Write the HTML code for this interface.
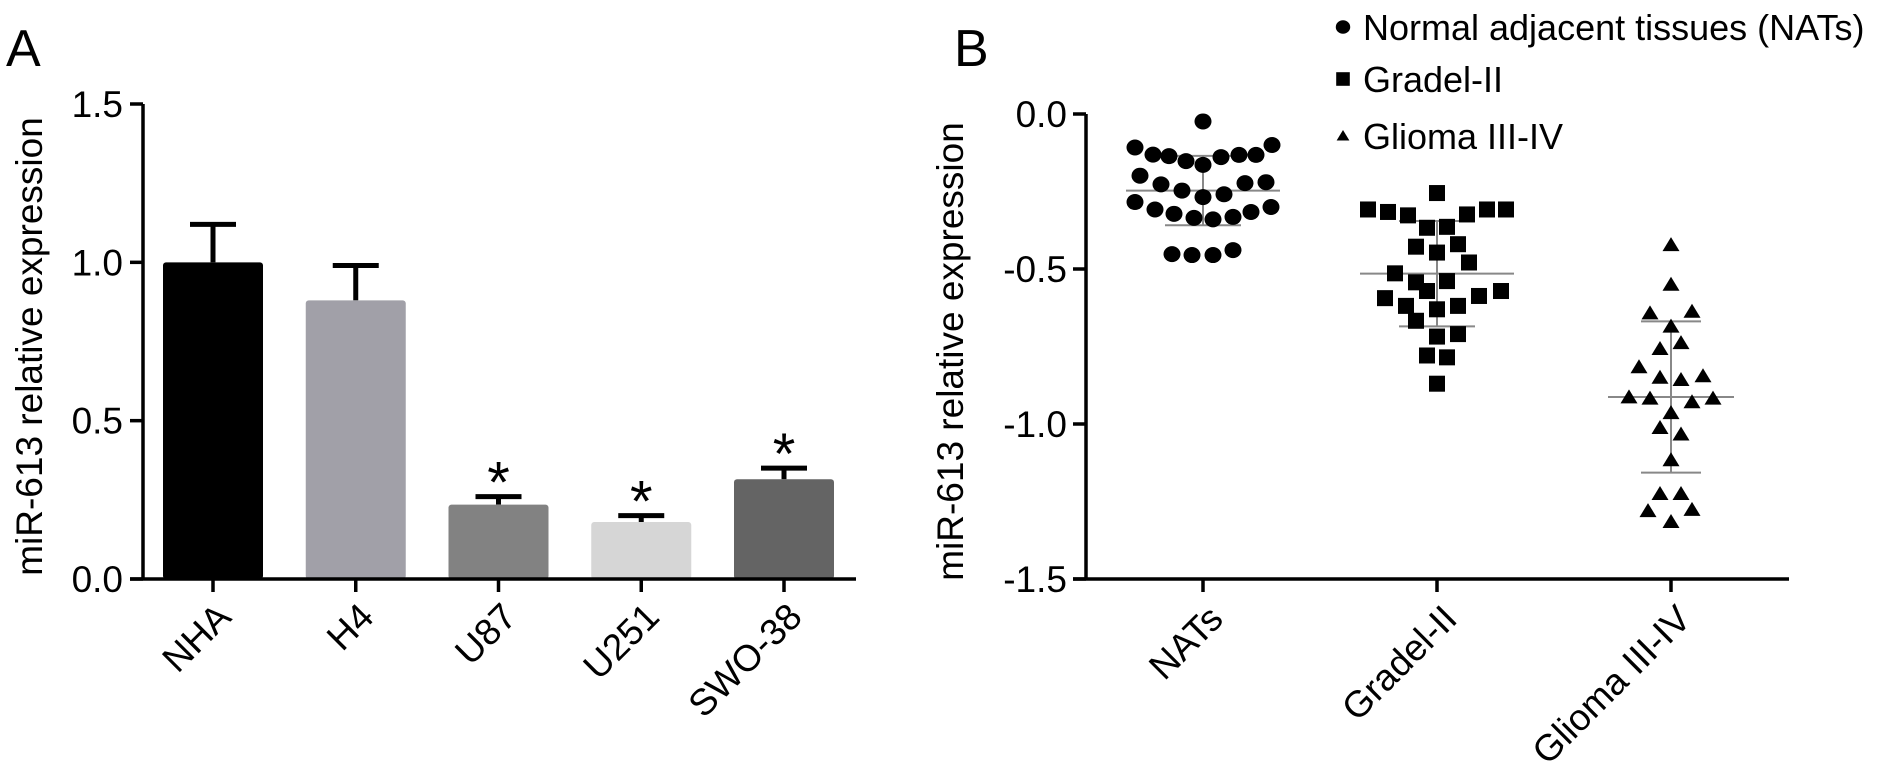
<!DOCTYPE html>
<html><head><meta charset="utf-8"><style>
html,body{margin:0;padding:0;background:#fff;}
svg{display:block;font-family:"Liberation Sans",Arial,sans-serif;}
</style></head><body>
<svg id="fig" width="1895" height="775" viewBox="0 0 1895 775" xmlns="http://www.w3.org/2000/svg">
<text x="6" y="66" font-size="52">A</text>
<text x="954" y="66" font-size="52">B</text>
<g id="pa"></g>
<g id="pb"></g>
</svg>
<script>
// Panel A data
const barCats = ["NHA","H4","U87","U251","SWO-38"];
const barVals = [1.0,0.88,0.235,0.18,0.315];
const barErr = [0.12,0.11,0.025,0.02,0.035];
const barSig = [false,false,true,true,true];
const aTicks = [0,0.5,1.0,1.5];
const aTickLabels = ["0.0","0.5","1.0","1.5"];
// Panel B data
const bCats = ["NATs","Gradel-II","Glioma III-IV"];
const natsVals = [-0.024,-0.108,-0.131,-0.136,-0.152,-0.164,-0.139,-0.132,-0.132,-0.100,-0.199,-0.227,-0.247,-0.268,-0.259,-0.223,-0.220,-0.284,-0.308,-0.322,-0.335,-0.340,-0.332,-0.316,-0.300,-0.452,-0.455,-0.455,-0.439];
const gradeVals = [-0.255,-0.308,-0.316,-0.327,-0.324,-0.308,-0.308,-0.367,-0.364,-0.428,-0.420,-0.447,-0.479,-0.514,-0.543,-0.539,-0.571,-0.594,-0.587,-0.571,-0.619,-0.619,-0.630,-0.667,-0.710,-0.718,-0.779,-0.785,-0.870];
const gliomaVals = [-0.423,-0.551,-0.643,-0.638,-0.686,-0.739,-0.758,-0.817,-0.846,-0.851,-0.858,-0.914,-0.918,-0.930,-0.918,-0.965,-1.013,-1.034,-1.117,-1.226,-1.226,-1.281,-1.316,-1.277];
const bMeans = [-0.247,-0.515,-0.913];
const bSD = [0.112,0.170,0.244];
const bTicks = [0,-0.5,-1.0,-1.5];
const bTickLabels = ["0.0","-0.5","-1.0","-1.5"];
// horizontal jitter (layout, px)
const natsJit = [0,-68,-50,-34,-17,0,18,36,53,69,-63,-42,-21,0,21,42,63,-68,-48,-29,-9,10,30,48,68,-31,-11,10,30];
const gradeJit = [0,-69,-49,-29,30,50,69,-10,10,-21,21,0,32,-42,-21,10,-10,-52,42,64,-31,21,0,-21,21,0,-10,10,0];
const gliomaJit = [0,0,-21,21,0,10,-11,-32,32,-11,10,-42,-21,21,42,0,-11,10,0,-11,10,-23,0,21];

const NS="http://www.w3.org/2000/svg";
function mk(parent,tag,attrs){const e=document.createElementNS(NS,tag);for(const k in attrs)e.setAttribute(k,attrs[k]);parent.appendChild(e);return e;}

// ---------- Panel A ----------
const pa=document.getElementById('pa');
const aX0=143,aX1=856,aY0=579,aY15=104;
const ay=v=>aY0-(v/1.5)*(aY0-aY15);
const ax=i=>213+i*142.75;
const barColors=["#000000","#a1a0a8","#828282","#d6d6d6","#646464"];
barCats.forEach((c,i)=>{
  const cx=ax(i),w=100;
  const top=ay(barVals[i]+barErr[i]);
  const el=mk(pa,'line',{x1:cx,x2:cx,y1:ay(barVals[i]),y2:top,stroke:'#000','stroke-width':5});
  
  
  const cap=mk(pa,'line',{x1:cx-23,x2:cx+23,y1:top,y2:top,stroke:'#000','stroke-width':5});
  
  
  const r=mk(pa,'rect',{x:cx-w/2,y:ay(barVals[i]),width:w,height:aY0-ay(barVals[i]),fill:barColors[i],rx:3});
  
  
  if(barSig[i]){
    const s=mk(pa,'text',{x:cx,y:top+6,'font-size':58,'text-anchor':'middle'});
    s.textContent='*';
    
    
  }
  const tk=mk(pa,'line',{x1:cx,x2:cx,y1:aY0,y2:aY0+13,stroke:'#000','stroke-width':3.5});
  
  
  const t=mk(pa,'text',{x:0,y:0,'font-size':37,'text-anchor':'end',transform:`translate(${cx+20},${aY0+40}) rotate(-45)`});
  t.textContent=c;
  
  
});
{
const yl=mk(pa,'line',{x1:aX0,x2:aX0,y1:aY15,y2:aY0+1.5,stroke:'#000','stroke-width':3.5});


const xl=mk(pa,'line',{x1:aX0-13,x2:aX1,y1:aY0,y2:aY0,stroke:'#000','stroke-width':3.5});


aTicks.forEach((v,i)=>{
  const tk=mk(pa,'line',{x1:aX0-13,x2:aX0,y1:ay(v),y2:ay(v),stroke:'#000','stroke-width':3.5});
  
  
  const t=mk(pa,'text',{x:aX0-20,y:ay(v)+13,'font-size':37,'text-anchor':'end'});
  t.textContent=aTickLabels[i];
  
  
});
const tt=mk(pa,'text',{x:0,y:0,'font-size':37,'text-anchor':'middle',transform:`translate(42,${(aY0+aY15)/2+5}) rotate(-90)`});
tt.textContent='miR-613 relative expression';


}

// ---------- Panel B ----------
const pb=document.getElementById('pb');
const bX0=1086,bX1=1789,bY0=114,bY15=579;
const by=v=>bY0+(-v/1.5)*(bY15-bY0);
const bx=i=>1203+i*234;
const groups=[natsVals,gradeVals,gliomaVals];
const jits=[natsJit,gradeJit,gliomaJit];
const shapes=['circle','square','triangle'];
const meanHalf=[77,77,63], sdHalf=[38,38,30];
function marker(parent,shape,x,y){
  if(shape==='circle') return mk(parent,'ellipse',{cx:x,cy:y,rx:8.5,ry:8,fill:'#000'});
  if(shape==='square') return mk(parent,'rect',{x:x-8,y:y-8,width:16,height:16,fill:'#000'});
  return mk(parent,'polygon',{points:`${x},${y-8} ${x+8.5},${y+6} ${x-8.5},${y+6}`,fill:'#000'});
}
bCats.forEach((c,i)=>{
  const cx=bx(i);
  const m=bMeans[i],sd=bSD[i];
  const g='#888';
  const v=mk(pb,'line',{x1:cx,x2:cx,y1:by(m+sd),y2:by(m-sd),stroke:g,'stroke-width':2});
  
  
  const ml=mk(pb,'line',{x1:cx-meanHalf[i],x2:cx+meanHalf[i],y1:by(m),y2:by(m),stroke:g,'stroke-width':2});
  
  
  [m+sd,m-sd].forEach(vv=>{
    const s=mk(pb,'line',{x1:cx-sdHalf[i],x2:cx+sdHalf[i],y1:by(vv),y2:by(vv),stroke:g,'stroke-width':2});
    
    
  });
  groups[i].forEach((val,j)=>{
    const p=marker(pb,shapes[i],cx+jits[i][j],by(val));
    
    
  });
  const tk=mk(pb,'line',{x1:cx,x2:cx,y1:bY15,y2:bY15+13,stroke:'#000','stroke-width':3.5});
  
  
  const t=mk(pb,'text',{x:0,y:0,'font-size':37,'text-anchor':'end',transform:`translate(${cx+22},${bY15+42}) rotate(-45)`});
  t.textContent=c;
  
  
});
{
const yl=mk(pb,'line',{x1:bX0,x2:bX0,y1:bY0,y2:bY15+1.5,stroke:'#000','stroke-width':3.5});


const xl=mk(pb,'line',{x1:bX0-13,x2:bX1,y1:bY15,y2:bY15,stroke:'#000','stroke-width':3.5});


bTicks.forEach((v,i)=>{
  const tk=mk(pb,'line',{x1:bX0-13,x2:bX0,y1:by(v),y2:by(v),stroke:'#000','stroke-width':3.5});
  
  
  const t=mk(pb,'text',{x:bX0-19,y:by(v)+13,'font-size':37,'text-anchor':'end'});
  t.textContent=bTickLabels[i];
  
  
});
const tt=mk(pb,'text',{x:0,y:0,'font-size':37,'text-anchor':'middle',transform:`translate(963,${(bY0+bY15)/2+5}) rotate(-90)`});
tt.textContent='miR-613 relative expression';


const legendLabels=["Normal adjacent tissues (NATs)","Gradel-II","Glioma III-IV"];
const legendY=[27,79,136];
legendLabels.forEach((l,i)=>{
  const g=mk(pb,'g',{});
  
  
  const sc=i===2?0.75:0.85;
  const mm=marker(g,shapes[i],1343,legendY[i]);
  mm.setAttribute('transform',`translate(${1343*(1-sc)},${legendY[i]*(1-sc)}) scale(${sc})`);
  
  
  const t=mk(g,'text',{x:1363,y:legendY[i]+13,'font-size':36});
  t.textContent=l;
  
  
});
}
</script>
</body></html>
